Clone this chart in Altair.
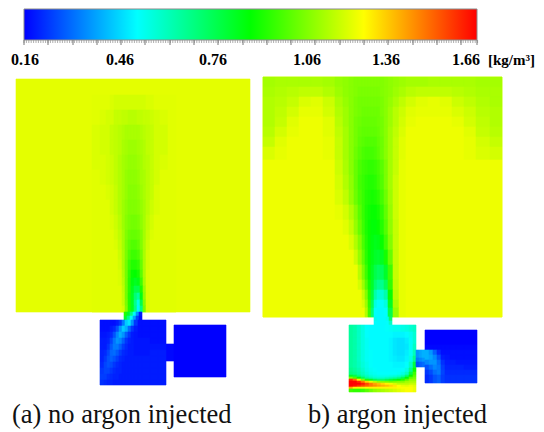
import altair as alt
import pandas as pd

# ---- colour scale (density, kg/m3)
scale_stops = [0.16, 0.3475, 0.535, 0.7225, 0.91, 1.0975, 1.285, 1.4725, 1.66]
scale_colors = ["#0000ff", "#0080ff", "#00ffff", "#00ff80", "#00ff00", "#80ff00", "#ffff00", "#ff8000", "#ff0000"]
tick_labels = ["0.16", "0.46", "0.76", "1.06", "1.36", "1.66"]
tick_label_x = [25, 120, 213, 307, 386, 466]
major_ticks = [24, 48, 73, 97, 121, 145, 170, 194, 218, 243, 267, 291, 315, 340, 364, 388, 413, 437, 461, 477]
minor_ticks = [24 + 2.4 * i for i in range(190)]
unit_label = "[kg/m³]"
captions = ["(a) no argon injected", "b) argon injected"]
caption_x = [12, 308]

# ---- uniform regions: x, x2, y, y2, density*100
regions = [
    (16, 250, 79, 312, 124.5),
    (263, 502, 77, 317, 126),
    (166, 174, 344, 361, 17),
    (174, 226, 325, 377, 16),
]

# ---- (a) plume in upper volume
a_x = [92, 100, 106, 110, 114, 118, 122, 125, 128, 131, 134, 137, 140, 143, 146, 150, 154, 160, 168, 176]
a_y = [95, 110, 125, 140, 155, 170, 185, 200, 215, 230, 240, 250, 260, 270, 278, 286, 293, 300, 306, 312]
a_rows = [
    [124, 124, 124, 123, 122, 122, 122, 122, 122, 122, 122, 122, 122, 122, 123, 123, 124, 124, 124],
    [124, 123, 122, 122, 120, 120, 119, 119, 118, 118, 118, 119, 119, 120, 120, 121, 122, 123, 124],
    [123, 122, 122, 120, 119, 118, 117, 116, 116, 116, 116, 116, 117, 118, 119, 120, 122, 122, 124],
    [123, 122, 122, 120, 119, 118, 116, 115, 114, 114, 114, 115, 116, 117, 119, 120, 122, 122, 124],
    [123, 123, 122, 121, 119, 117, 115, 114, 113, 113, 113, 114, 115, 117, 118, 120, 122, 123, 124],
    [124, 123, 122, 121, 119, 117, 115, 113, 112, 112, 112, 113, 115, 116, 118, 120, 122, 124, 124],
    [124, 124, 123, 122, 120, 117, 115, 113, 111, 111, 111, 112, 114, 116, 118, 120, 123, 124, 124],
    [124, 124, 124, 122, 120, 117, 114, 112, 110, 110, 110, 111, 113, 115, 118, 121, 123, 124, 124],
    [124, 124, 124, 123, 121, 118, 114, 111, 109, 108, 108, 109, 112, 115, 119, 122, 124, 124, 124],
    [124, 124, 124, 124, 122, 119, 115, 110, 107, 106, 106, 107, 110, 115, 120, 123, 124, 124, 124],
    [124, 124, 124, 124, 123, 120, 115, 109, 105, 103, 103, 105, 110, 116, 121, 124, 124, 124, 124],
    [124, 124, 124, 124, 124, 121, 116, 109, 103, 100, 100, 102, 108, 116, 122, 124, 124, 124, 124],
    [124, 124, 124, 124, 124, 122, 116, 108, 100, 96, 96, 98, 106, 116, 122, 124, 124, 124, 124],
    [124, 124, 124, 124, 124, 123, 117, 108, 98, 92, 91, 94, 104, 116, 123, 124, 124, 124, 124],
    [124, 124, 124, 124, 124, 123, 118, 108, 97, 89, 86, 88, 100, 115, 123, 124, 124, 124, 124],
    [124, 124, 124, 124, 124, 124, 119, 108, 97, 87, 80, 80, 95, 113, 123, 124, 124, 124, 124],
    [124, 124, 124, 124, 124, 124, 120, 108, 96, 86, 74, 68, 88, 112, 123, 124, 124, 124, 124],
    [124, 124, 124, 124, 124, 124, 120, 109, 96, 86, 70, 57, 80, 110, 123, 124, 124, 124, 124],
    [124, 124, 124, 124, 124, 124, 122, 110, 96, 86, 72, 52, 72, 108, 123, 124, 124, 124, 124],
]

# ---- (a) throat
at_x = [124, 127, 130, 133, 136, 139, 142]
at_y = [312, 316, 320]
at_rows = [
    [96, 85, 72, 55, 38, 20],
    [85, 72, 55, 40, 26, 18],
]

# ---- (a) lower chamber
ac_x = [100, 104, 107, 110, 113, 116, 119, 122, 125, 128, 131, 134, 138, 142, 150, 158, 166]
ac_y = [320, 326, 332, 338, 344, 350, 356, 362, 368, 374, 380, 385]
ac_rows = [
    [18, 18, 18, 18, 18, 20, 24, 34, 46, 50, 38, 24, 18, 18, 18, 18],
    [18, 18, 18, 20, 22, 28, 38, 46, 42, 32, 24, 20, 18, 18, 18, 18],
    [19, 19, 20, 22, 28, 36, 42, 38, 30, 24, 20, 19, 18, 18, 18, 18],
    [20, 20, 21, 26, 33, 38, 36, 30, 24, 21, 20, 19, 19, 19, 18, 18],
    [20, 20, 23, 29, 34, 34, 30, 25, 22, 20, 20, 19, 19, 19, 19, 19],
    [21, 22, 26, 31, 32, 29, 25, 22, 21, 20, 20, 19, 19, 19, 20, 20],
    [21, 24, 28, 30, 28, 25, 22, 21, 20, 20, 20, 20, 20, 20, 20, 20],
    [22, 26, 28, 27, 24, 22, 21, 20, 20, 20, 20, 20, 20, 20, 20, 20],
    [24, 26, 26, 24, 22, 21, 21, 20, 20, 20, 20, 20, 20, 20, 20, 20],
    [25, 25, 23, 22, 21, 21, 20, 20, 20, 20, 20, 20, 20, 20, 20, 20],
    [23, 22, 21, 21, 20, 20, 20, 20, 20, 20, 20, 20, 20, 20, 20, 20],
]

# ---- (b) upper volume
b_x = [263, 275, 287, 299, 311, 323, 335, 343, 349, 354, 358, 362, 365, 368, 371, 374, 377, 380, 384, 388, 393, 399, 406, 416, 428, 440, 452, 464, 476, 490, 502]
b_y = [77, 87, 97, 107, 117, 127, 137, 147, 160, 175, 190, 205, 220, 235, 250, 265, 280, 290, 300, 308, 317]
b_rows = [
    [115, 116, 116, 116, 116, 115, 113, 112, 111, 110, 110, 110, 110, 110, 110, 110, 110, 110, 111, 112, 113, 114, 115, 115, 116, 116, 116, 116, 115, 115],
    [116, 117, 118, 119, 119, 117, 114, 112, 111, 110, 109, 109, 109, 109, 109, 109, 109, 110, 111, 112, 114, 116, 118, 119, 119, 119, 118, 117, 116, 116],
    [117, 118, 120, 123, 124, 121, 116, 113, 111, 109, 108, 108, 108, 108, 108, 108, 108, 109, 111, 113, 116, 119, 122, 124, 125, 124, 121, 119, 117, 116],
    [117, 119, 122, 125, 125, 122, 117, 114, 111, 109, 108, 107, 107, 107, 107, 107, 107, 109, 111, 114, 118, 121, 124, 125, 125, 125, 123, 121, 118, 117],
    [117, 120, 124, 126, 126, 124, 118, 114, 111, 108, 107, 106, 106, 106, 106, 106, 107, 108, 111, 114, 118, 122, 125, 126, 126, 126, 125, 122, 119, 117],
    [118, 122, 125, 126, 126, 124, 119, 115, 111, 108, 106, 105, 105, 105, 105, 105, 106, 108, 111, 115, 119, 123, 126, 126, 126, 126, 126, 124, 120, 118],
    [120, 124, 126, 126, 126, 125, 120, 115, 111, 108, 105, 104, 103, 103, 103, 103, 105, 107, 111, 115, 120, 124, 126, 126, 126, 126, 126, 125, 122, 120],
    [123, 125, 126, 126, 126, 125, 120, 115, 111, 107, 104, 102, 101, 101, 101, 102, 104, 107, 111, 115, 120, 124, 126, 126, 126, 126, 126, 125, 123, 122],
    [126] * 6 + [121, 116, 111, 106, 102, 100, 99, 98, 98, 99, 101, 104, 109, 115, 120, 125] + [126] * 8,
    [126] * 6 + [122, 117, 112, 106, 101, 99, 97, 96, 96, 97, 100, 103, 109, 115, 121, 125] + [126] * 8,
    [126] * 6 + [123, 119, 113, 107, 102, 99, 96, 95, 94, 95, 97, 101, 107, 114, 121, 125] + [126] * 8,
    [126] * 6 + [125, 122, 117, 111, 104, 99, 95, 93, 92, 92, 94, 98, 105, 113, 121, 125] + [126] * 8,
    [126] * 7 + [124, 120, 113, 106, 100, 95, 92, 90, 90, 92, 96, 103, 112, 120, 125] + [126] * 8,
    [126] * 8 + [123, 117, 110, 102, 96, 92, 89, 87, 88, 92, 100, 110, 120, 125] + [126] * 8,
    [126] * 9 + [121, 113, 105, 97, 92, 88, 85, 84, 86, 94, 106, 120, 125] + [126] * 8,
    [126] * 10 + [118, 109, 100, 92, 86, 80, 77, 78, 85, 100, 120, 125] + [126] * 8,
    [126] * 10 + [122, 114, 104, 94, 85, 75, 70, 70, 78, 98, 119, 125] + [126] * 8,
    [126] * 11 + [120, 110, 96, 82, 66, 60, 60, 66, 92, 118, 125] + [126] * 8,
    [126] * 11 + [123, 114, 98, 78, 58, 54, 54, 58, 86, 116, 125] + [126] * 8,
    [126] * 12 + [117, 100, 74, 54, 53, 53, 54, 80, 113, 125] + [126] * 8,
]

# ---- (b) throat
bt_x = [374, 377, 380, 383, 386, 389, 392]
bt_y = [317, 321, 325]
bt_rows = [
    [56, 53, 53, 53, 56, 75],
    [54, 53, 53, 53, 54, 62],
]

# ---- (b) lower chamber
bc_x = [349, 353, 357, 361, 365, 369, 373, 377, 381, 385, 389, 393, 397, 401, 405, 409, 413, 416]
bc_y = [325, 332, 338, 344, 350, 356, 362, 368, 372, 375, 377, 379, 381, 383, 385, 387, 389, 392]
bc_rows = [
    [68, 66, 62, 58, 54, 53, 53, 53, 53, 54, 55, 56, 56, 57, 58, 60, 62],
    [68, 66, 62, 58, 54, 53, 53, 53, 53, 53, 53, 52, 52, 52, 53, 56, 60],
    [68, 66, 62, 58, 55, 53, 53, 53, 53, 53, 52, 50, 49, 49, 51, 55, 60],
    [68, 66, 62, 58, 55, 53, 53, 53, 53, 53, 52, 50, 49, 49, 50, 55, 62],
    [68, 66, 62, 58, 55, 54, 53, 53, 53, 53, 52, 50, 49, 49, 51, 55, 64],
    [68, 66, 62, 58, 55, 54, 53, 53, 53, 53, 52, 51, 50, 50, 52, 57, 70],
    [68, 66, 63, 59, 56, 54, 53, 53, 53, 53, 53, 52, 52, 52, 54, 62, 82],
    [70, 68, 65, 61, 57, 55, 54, 53, 53, 53, 53, 53, 53, 54, 57, 70, 92],
    [72, 70, 67, 63, 59, 56, 55, 54, 54, 54, 54, 54, 55, 57, 62, 80, 100],
    [85, 80, 72, 66, 62, 59, 57, 56, 56, 56, 57, 58, 60, 64, 74, 92, 104],
    [110, 102, 90, 78, 68, 64, 61, 60, 60, 62, 64, 66, 70, 78, 90, 104, 108],
    [160, 150, 130, 110, 95, 85, 78, 74, 74, 78, 82, 86, 90, 96, 104, 112, 112],
    [166, 166, 160, 148, 135, 125, 118, 112, 110, 108, 106, 108, 110, 110, 114, 116, 116],
    [166, 166, 166, 162, 155, 148, 142, 138, 134, 130, 126, 122, 118, 118, 118, 120, 120],
    [166, 164, 160, 156, 152, 148, 145, 142, 140, 138, 135, 132, 128, 125, 124, 126, 124],
    [140, 130, 126, 126, 128, 130, 130, 130, 130, 130, 130, 130, 129, 128, 128, 128, 126],
    [100, 98, 98, 100, 104, 108, 112, 114, 116, 118, 120, 122, 124, 126, 128, 128, 126],
]

# ---- (b) connection and side chamber
bn_x = [416, 419, 422, 425]
bn_y = [350, 354, 358, 362, 367]
bn_rows = [[38, 40, 42], [38, 40, 42], [34, 36, 38], [28, 30, 32]]

bs_x = [425, 429, 433, 437, 441, 445, 450, 456, 464, 477]
bs_y = [330, 345, 350, 355, 360, 365, 370, 375, 383]
bs_rows = [
    [16, 16, 16, 16, 16, 16, 16, 16, 16],
    [17, 17, 17, 17, 17, 17, 17, 17, 17],
    [42, 38, 30, 22, 18, 18, 18, 18, 18],
    [42, 40, 36, 28, 20, 19, 18, 18, 18],
    [36, 38, 38, 32, 23, 20, 20, 19, 19],
    [28, 32, 36, 34, 25, 21, 21, 21, 20],
    [24, 27, 32, 34, 26, 22, 22, 22, 22],
    [22, 24, 28, 30, 25, 23, 23, 23, 23],
]


def cells(xe, ye, rows):
    out = []
    assert len(rows) == len(ye) - 1
    for j, row in enumerate(rows):
        assert len(row) == len(xe) - 1, (xe[0], j, len(row))
        for i, v in enumerate(row):
            out.append(dict(x=xe[i], x2=xe[i + 1], y=ye[j], y2=ye[j + 1], d=v / 100))
    return out


records = [dict(x=r[0], x2=r[1], y=r[2], y2=r[3], d=r[4] / 100) for r in regions]
for g in [(a_x, a_y, a_rows), (at_x, at_y, at_rows), (ac_x, ac_y, ac_rows),
          (b_x, b_y, b_rows), (bt_x, bt_y, bt_rows), (bc_x, bc_y, bc_rows),
          (bn_x, bn_y, bn_rows), (bs_x, bs_y, bs_rows)]:
    records += cells(*g)
field = pd.DataFrame(records)

W, H = 528, 422
X = alt.X("x:Q", scale=alt.Scale(domain=[8, 8 + W], nice=False, zero=False), axis=None)
Y = alt.Y("y:Q", scale=alt.Scale(domain=[8 + H, 8], nice=False, zero=False), axis=None)

density_scale = alt.Scale(domain=scale_stops, range=scale_colors, interpolate="rgb", clamp=True)
heat = alt.Chart(field).mark_rect(strokeWidth=0.6, opacity=1).encode(
    x=X, x2="x2:Q", y=Y, y2="y2:Q",
    color=alt.Color("d:Q", legend=None, scale=density_scale),
    stroke=alt.Stroke("d:Q", legend=None, scale=density_scale),
)

span = scale_stops[-1] - scale_stops[0]
grad = alt.Gradient(gradient="linear", x1=0, x2=1, y1=0, y2=0,
                    stops=[alt.GradientStop(color=c, offset=(s - scale_stops[0]) / span)
                           for s, c in zip(scale_stops, scale_colors)])
bar = alt.Chart(pd.DataFrame([dict(x=24, x2=477, y=9, y2=40)])).mark_rect(
    color=grad, stroke="#8a8a8a", strokeWidth=1, opacity=1).encode(x=X, x2="x2:Q", y=Y, y2="y2:Q")

minor = alt.Chart(pd.DataFrame(dict(x=minor_ticks, y=40, y2=43))).mark_rule(
    color="#9a9a9a", strokeWidth=1, opacity=0.8).encode(x=X, y=Y, y2="y2:Q")
major = alt.Chart(pd.DataFrame(dict(x=major_ticks, y=40, y2=45))).mark_rule(
    color="#777777", strokeWidth=1).encode(x=X, y=Y, y2="y2:Q")

labels = alt.Chart(pd.DataFrame(dict(x=tick_label_x, y=65, t=tick_labels))).mark_text(
    font="Liberation Serif", fontWeight="bold", fontSize=16, color="black",
    align="center", baseline="alphabetic").encode(x=X, y=Y, text="t:N")
unit = alt.Chart(pd.DataFrame(dict(x=[488], y=65, t=[unit_label]))).mark_text(
    font="Liberation Serif", fontWeight="bold", fontSize=15, color="black",
    align="left", baseline="alphabetic").encode(x=X, y=Y, text="t:N")
caps = alt.Chart(pd.DataFrame(dict(x=caption_x, y=423, t=captions))).mark_text(
    font="Liberation Serif", fontSize=26.5, color="#111111",
    align="left", baseline="alphabetic").encode(x=X, y=Y, text="t:N")

chart = alt.layer(heat, bar, minor, major, labels, unit, caps).resolve_scale(color="shared").properties(
    width=W, height=H, padding=0, autosize=alt.AutoSizeParams(type="none"),
).configure_view(stroke=None)

chart.save("out.html", embed_options={"renderer": "svg", "actions": False})
